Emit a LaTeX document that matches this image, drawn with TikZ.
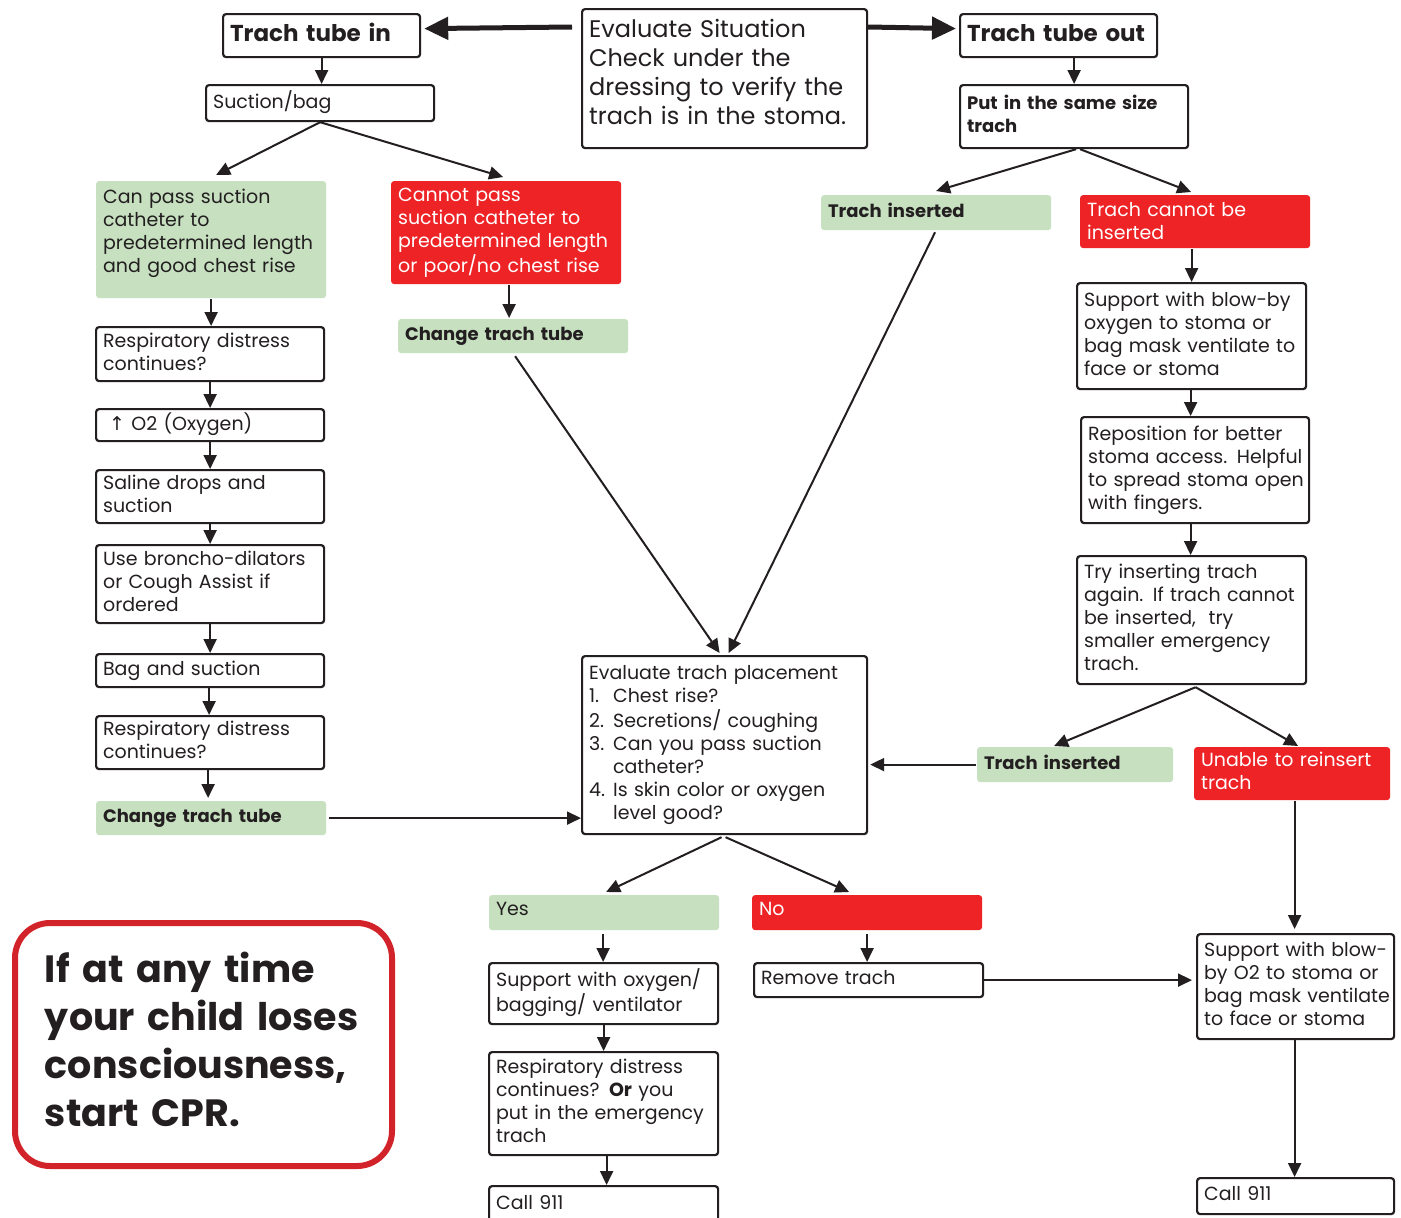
\documentclass[tikz,border=0pt]{standalone}
\usepackage{fontspec}
\setmainfont{Poppins}
\newfontfamily\symf{DejaVu Sans}
\usetikzlibrary{arrows.meta,calc}
\definecolor{ink}{HTML}{231F20}
\definecolor{gfill}{HTML}{C6E0C0}
\definecolor{rfill}{HTML}{EE2326}
\definecolor{cprred}{HTML}{D2232A}
\newcommand\nm[1]{\makebox[24pt][l]{#1}}
\newcommand\up[2]{\raisebox{#1pt}[\height][\depth]{#2}}
\newcommand\bx[7]{%
  \pgfmathsetmacro\bw{#5-#3}%
  \pgfmathsetmacro\bh{#6-#4}%
  \pgfmathsetmacro\tw{#5-#3-14}%
  \node[#2, anchor=north west, minimum width=\bw pt, minimum height=\bh pt, text width=\tw pt] (#1) at (#3,#4) {#7};}
\newcommand\tb[1]{\begin{tabular}{@{}l@{}}#1\end{tabular}}
\tikzset{
  box/.style={draw=ink, line width=2.2pt, rounded corners=3pt, fill=white, inner xsep=7pt, inner ysep=0pt, align=left, text=ink, font=\fontsize{19}{23}\selectfont},
  gb/.style={box, draw=none, fill=gfill},
  rb/.style={box, draw=none, fill=rfill, text=white},
  title/.style={box, font=\fontsize{23}{29}\selectfont\bfseries},
  sbold/.style={font=\fontsize{18}{23}\selectfont\bfseries},
  arr/.style={draw=ink, line width=2pt, -{Triangle[length=14pt,width=13pt]}},
  bigarr/.style={draw=ink, line width=5pt, -{Triangle[length=24pt,width=22pt]}},
}
\begin{document}
\begin{tikzpicture}[x=1pt,y=-1pt]
\useasboundingbox[fill=white] (0,0) rectangle (1401,1218);
% boxes
\bx{tin}{title}{222}{13}{419}{56}{\tb{Trach tube in}}
\bx{eval}{box, font=\fontsize{24}{29}\selectfont}{581}{8}{866}{147}{\up{3}{\tb{Evaluate Situation\\Check under the\\dressing to verify the\\trach is in the stoma.}}}
\bx{tout}{title}{959}{13}{1156}{56}{\tb{Trach tube out}}
\bx{suct}{box}{205}{84}{433}{120}{\tb{Suction/bag}}
\bx{same}{box, sbold}{959}{84}{1187}{147}{\tb{Put in the same size\\trach}}
\bx{canpass}{gb}{95}{180}{325}{297}{\up{6}{\tb{Can pass suction\\catheter to\\predetermined length\\and good chest rise}}}
\bx{cannot}{rb}{390}{180}{620}{283}{\tb{Cannot pass\\suction catheter to\\predetermined length\\or poor/no chest rise}}
\bx{tins1}{gb, sbold}{820}{194}{1050}{229}{\tb{Trach inserted}}
\bx{tcant}{rb}{1079}{194}{1309}{247}{\up{-2}{\tb{Trach cannot be\\inserted}}}
\bx{rd1}{box}{95}{326}{323}{380}{\tb{Respiratory distress\\continues?}}
\bx{ctt1}{gb, sbold}{397}{318}{627}{352}{\tb{Change trach tube}}
\bx{o2}{box}{95}{408}{323}{440}{\tb{\hspace*{6pt}{\symf ↑} O2 (Oxygen)}}
\bx{saline}{box}{95}{469}{323}{522}{\tb{Saline drops and\\suction}}
\bx{broncho}{box}{95}{544}{323}{622}{\tb{Use broncho-dilators\\or Cough Assist if\\ordered}}
\bx{bag}{box}{95}{653}{323}{686}{\tb{Bag and suction}}
\bx{rd2}{box}{95}{715}{323}{768}{\tb{Respiratory distress\\continues?}}
\bx{ctt2}{gb, sbold}{95}{800}{325}{834}{\tb{Change trach tube}}
\bx{supp1}{box}{1076}{282}{1305}{388}{\tb{Support with blow-by\\oxygen to stoma or\\bag mask ventilate to\\face or stoma}}
\bx{repo}{box}{1080}{416}{1308}{522}{\tb{Reposition for better\\stoma access. Helpful\\to spread stoma open\\with fingers.}}
\bx{try}{box}{1076}{555}{1305}{683}{\tb{Try inserting trach\\again. If trach cannot\\be inserted,\ \ try\\smaller emergency\\trach.}}
\bx{evalp}{box}{581}{655}{866}{833}{\tb{Evaluate trach placement\\\nm{1.}Chest rise?\\\nm{2.}Secretions/ coughing\\\nm{3.}Can you pass suction\\\nm{}catheter?\\\nm{4.}Is skin color or oxygen\\\nm{}level good?}}
\bx{tins2}{gb, sbold}{976}{746}{1172}{781}{\tb{Trach inserted}}
\bx{unable}{rb}{1193}{746}{1389}{799}{\tb{Unable to reinsert\\trach}}
\bx{yes}{gb}{488}{894}{718}{929}{\up{2}{\tb{Yes}}}
\bx{no}{rb}{751}{894}{981}{929}{\up{2}{\tb{No}}}
\bx{supp2}{box}{488}{962}{717}{1023}{\tb{Support with oxygen/\\bagging/ ventilator}}
\bx{remove}{box}{753}{962}{982}{996}{\tb{Remove trach}}
\bx{supp3}{box}{1196}{933}{1393}{1038}{\tb{Support with blow-\\by O2 to stoma or\\bag mask ventilate\\to face or stoma}}
\bx{rd3}{box}{488}{1051}{717}{1154}{\tb{Respiratory distress\\continues? \textbf{Or} you\\put in the emergency\\trach}}
\bx{call1}{box}{488}{1185}{717}{1226}{\up{2}{\tb{Call 911}}}
\bx{call2}{box}{1196}{1177}{1393}{1213}{\tb{Call 911}}
\node[draw=cprred, line width=6pt, rounded corners=35pt, anchor=north west, minimum width=377pt, minimum height=243pt, text width=317pt, inner xsep=30pt, inner ysep=0pt, align=left, text=ink, font=\fontsize{38}{48}\selectfont\bfseries] (cpr) at (12,920) {\tb{If at any time\\your child loses\\consciousness,\\start CPR.}};
% connectors
\draw[bigarr] ([xshift=-9pt,yshift=-19pt]eval.north west) -- ([xshift=3pt,yshift=7pt]tin.east);
\draw[bigarr] ([yshift=-19pt]eval.north east) -- ([xshift=-3pt,yshift=7pt]tout.west);
\draw[arr] (tin.south) -- (tin.south |- suct.north);
\draw[arr] (same.north |- tout.south) -- (same.north);
\draw[arr] (suct.south) -- ([xshift=5pt,yshift=5pt]canpass.north);
\draw[arr] (suct.south) -- ([xshift=-3pt,yshift=3pt]cannot.north);
\draw[arr] ([xshift=2pt]same.south) -- ([yshift=3pt]tins1.north);
\draw[arr] ([xshift=6pt]same.south) -- ([xshift=-4pt,yshift=2pt]tcant.north);
\draw[arr] (canpass.south) -- (canpass.south |- rd1.north);
\draw[arr] ([xshift=3pt]cannot.south) -- ([xshift=-4pt]ctt1.north);
\draw[arr] (supp1.north |- tcant.south) -- (supp1.north);
\draw[arr] (rd1.south) -- (o2.north);
\draw[arr] (o2.south) -- (saline.north);
\draw[arr] (saline.south) -- (broncho.north);
\draw[arr] (broncho.south) -- (bag.north);
\draw[arr] ([xshift=-1pt]bag.south) -- ([xshift=-1pt]rd2.north);
\draw[arr] ([xshift=-2pt]rd2.south) -- ([xshift=-3pt,yshift=2pt]ctt2.north);
\draw[arr] ([xshift=2pt]ctt2.east) -- (ctt2.east -| evalp.west);
\draw[arr] ([xshift=2pt,yshift=-2pt]ctt1.south) -- ([xshift=-5pt,yshift=2pt]evalp.north);
\draw[arr] ([xshift=-1pt,yshift=-1pt]tins1.south) -- ([xshift=4pt,yshift=2pt]evalp.north);
\draw[arr] ([xshift=-1pt]supp1.south) -- ([xshift=-1pt]supp1.south |- repo.north);
\draw[arr] ([xshift=-1pt]repo.south -| supp1.south) -- ([xshift=-1pt]supp1.south |- try.north);
\draw[arr] ([xshift=4pt,yshift=-2pt]try.south) -- ([xshift=-21pt]tins2.north);
\draw[arr] ([xshift=4pt,yshift=-2pt]try.south) -- ([xshift=6pt]unable.north);
\draw[arr] (tins2.west) -- ([xshift=2pt]tins2.west -| evalp.east);
\draw[arr] ([xshift=-3pt,yshift=-2pt]evalp.south) -- ([xshift=2pt,yshift=2pt]yes.north);
\draw[arr] ([xshift=1pt,yshift=-2pt]evalp.south) -- ([xshift=-18pt,yshift=2pt]no.north);
\draw[arr] ([xshift=-1pt]supp3.north |- unable.south) -- ([xshift=-1pt,yshift=4pt]supp3.north);
\draw[arr] ([xshift=-1pt,yshift=-3pt]yes.south) -- ([xshift=-1pt]yes.south |- supp2.north);
\draw[arr] ([yshift=-3pt]no.south) -- (no.south |- remove.north);
\draw[arr] (remove.east) -- ([xshift=-4pt]remove.east -| supp3.west);
\draw[arr] (supp2.south) -- (rd3.north);
\draw[arr] ([xshift=3pt]rd3.south) -- ([xshift=3pt]rd3.south |- call1.north);
\draw[arr] ([xshift=-1pt]supp3.south) -- ([xshift=-1pt]call2.north);
\end{tikzpicture}
\end{document}
